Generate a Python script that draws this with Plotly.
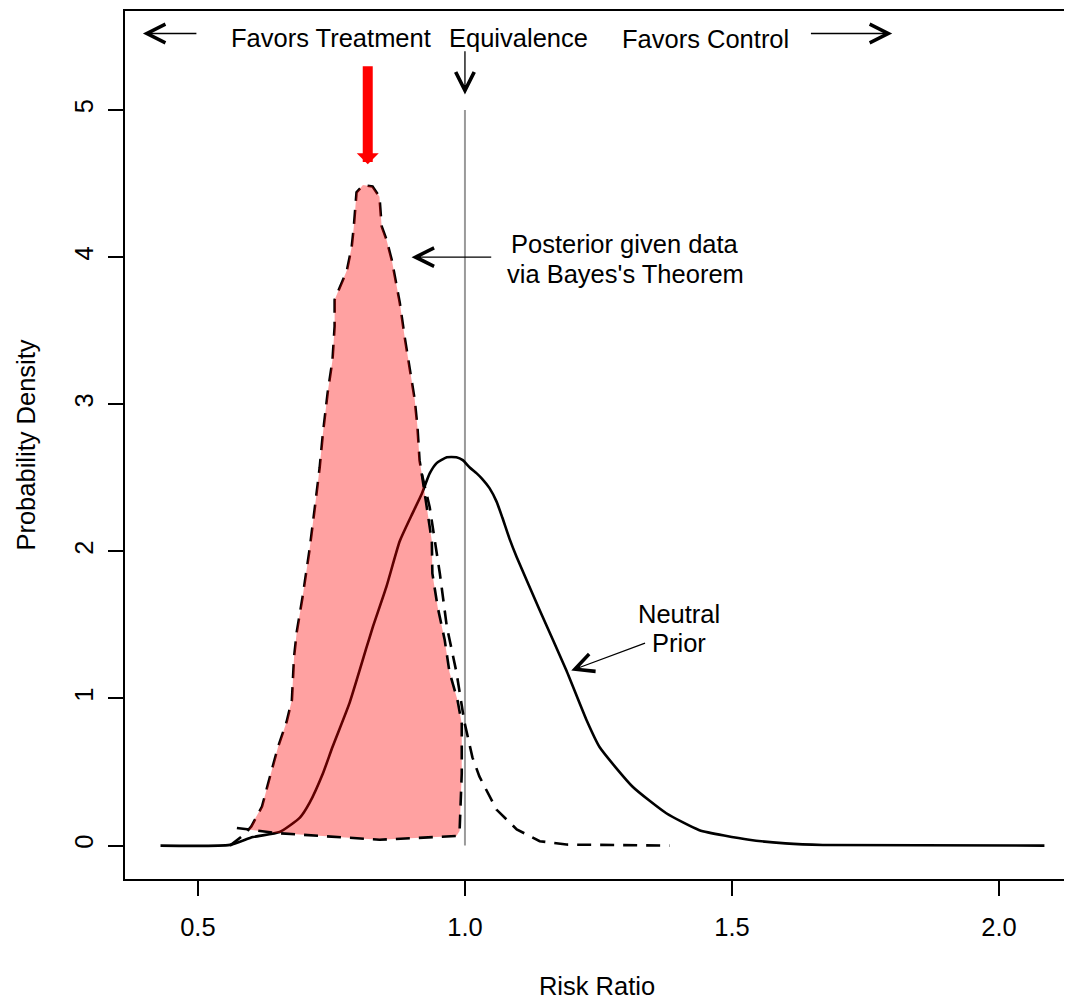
import plotly.graph_objects as go

# ---- data ----
prior_x = [0.43, 0.56, 0.603, 0.653, 0.691, 0.709, 0.734, 0.752, 0.784, 0.816, 0.827, 0.853,
           0.878, 0.902, 0.919, 0.934, 0.947, 0.966, 0.984, 0.996, 1.009, 1.022, 1.033, 1.046,
           1.059, 1.070, 1.083, 1.097, 1.140, 1.190, 1.228, 1.252, 1.314, 1.377, 1.439, 1.532,
           1.60, 1.67, 2.085]
prior_y = [0, 0.005, 0.058, 0.092, 0.19, 0.29, 0.49, 0.67, 0.97, 1.35, 1.48, 1.76,
           2.07, 2.26, 2.39, 2.53, 2.60, 2.64, 2.64, 2.62, 2.57, 2.53, 2.49, 2.43,
           2.34, 2.23, 2.09, 1.96, 1.60, 1.19, 0.85, 0.67, 0.40, 0.22, 0.105, 0.04,
           0.015, 0.004, 0]

post_x = [0.56, 0.585, 0.60, 0.620, 0.635, 0.650, 0.666, 0.676, 0.680, 0.685, 0.696, 0.709,
          0.719, 0.728, 0.734, 0.743, 0.752, 0.756, 0.756, 0.766, 0.779, 0.788, 0.792, 0.797,
          0.809, 0.827, 0.840, 0.844, 0.853, 0.863, 0.878, 0.887, 0.896, 0.906, 0.911, 0.915,
          0.919, 0.934, 0.953, 0.966, 0.984, 0.999, 1.014, 1.027, 1.059, 1.097, 1.140, 1.19,
          1.383]
post_y = [0, 0.07, 0.13, 0.265, 0.47, 0.67, 0.84, 0.99, 1.28, 1.45, 1.69, 2.01,
          2.30, 2.57, 2.80, 3.08, 3.30, 3.53, 3.71, 3.80, 3.91, 4.07, 4.21, 4.44,
          4.49, 4.48, 4.41, 4.21, 4.12, 3.98, 3.69, 3.46, 3.25, 3.03, 2.85, 2.62,
          2.53, 2.30, 1.85, 1.49, 1.18, 0.84, 0.60, 0.47, 0.245, 0.11, 0.03, 0.007,
          0]

# hand-drawn shaded region (posterior mass below RR = 1)
shade_x = [0.573, 0.597, 0.620, 0.635, 0.650, 0.666, 0.676, 0.680, 0.685, 0.696, 0.709, 0.719,
           0.728, 0.734, 0.743, 0.752, 0.756, 0.756, 0.766, 0.779, 0.788, 0.792, 0.797, 0.809,
           0.827, 0.840, 0.844, 0.853, 0.863, 0.878, 0.887, 0.896, 0.906, 0.911, 0.915, 0.919,
           0.928, 0.938, 0.939, 0.949, 0.962, 0.971, 0.986, 0.994, 0.994, 0.990, 0.984, 0.840,
           0.648, 0.573]
shade_y = [0.12, 0.12, 0.265, 0.47, 0.67, 0.84, 0.99, 1.28, 1.45, 1.69, 2.01, 2.30,
           2.57, 2.80, 3.08, 3.30, 3.53, 3.71, 3.80, 3.91, 4.07, 4.21, 4.44, 4.49,
           4.48, 4.41, 4.21, 4.12, 3.98, 3.69, 3.46, 3.25, 3.03, 2.85, 2.62, 2.53,
           2.30, 2.07, 1.85, 1.62, 1.40, 1.18, 0.99, 0.83, 0.49, 0.10, 0.065, 0.04,
           0.085, 0.12]
shade_edge_start = 35  # index where the shaded outline departs from the posterior curve

equiv_x = [1.0, 1.0]
equiv_y = [0, 5]

x_ticks = [0.5, 1.0, 1.5, 2.0]
x_tick_labels = ["0.5", "1.0", "1.5", "2.0"]
y_ticks = [0, 1, 2, 3, 4, 5]
y_tick_labels = ["0", "1", "2", "3", "4", "5"]

x_title = "Risk Ratio"
y_title = "Probability Density"

FONT = "Arial, 'Liberation Sans', sans-serif"
FS = 25.5
DASH = "14px,9px"

fig = go.Figure()

fig.add_trace(go.Scatter(x=equiv_x, y=equiv_y, mode="lines",
                         line=dict(color="#9a9a9a", width=2), hoverinfo="skip"))
fig.add_trace(go.Scatter(x=prior_x, y=prior_y, mode="lines",
                         line=dict(color="black", width=2.6, shape="spline", smoothing=0.5),
                         hoverinfo="skip"))
fig.add_trace(go.Scatter(x=post_x, y=post_y, mode="lines",
                         line=dict(color="black", width=2.6, dash=DASH), hoverinfo="skip"))
fig.add_trace(go.Scatter(x=shade_x, y=shade_y, mode="lines", fill="toself",
                         fillcolor="rgba(255,0,0,0.37)",
                         line=dict(color="rgba(0,0,0,0)", width=0), hoverinfo="skip"))
fig.add_trace(go.Scatter(x=shade_x[shade_edge_start:], y=shade_y[shade_edge_start:], mode="lines",
                         line=dict(color="black", width=2.6, dash=DASH), hoverinfo="skip"))

annotations = []

def label(text, x, y):
    annotations.append(dict(x=x, y=y, xref="x", yref="y", text=text, showarrow=False,
                            xanchor="center", yanchor="middle",
                            font=dict(family=FONT, size=FS, color="black")))

def arrow(tip, tail, color="black", width=1.3, head=5, size=2.8):
    annotations.append(dict(x=tip[0], y=tip[1], ax=tail[0], ay=tail[1],
                            xref="x", yref="y", axref="x", ayref="y", text="",
                            showarrow=True, arrowhead=head, arrowsize=size,
                            arrowwidth=width, arrowcolor=color, standoff=0, startstandoff=0))

label("Favors Treatment", 0.749, 5.487)
label("Equivalence", 1.100, 5.490)
label("Favors Control", 1.450, 5.485)
label("Posterior given data", 1.300, 4.087)
label("via Bayes's Theorem", 1.300, 3.884)
label("Neutral", 1.401, 1.571)
label("Prior", 1.401, 1.374)

arrow((0.397, 5.52), (0.500, 5.52))
arrow((1.800, 5.52), (1.645, 5.52))
arrow((1.000, 5.105), (1.000, 5.41))
arrow((0.900, 4.00), (1.052, 4.00))
arrow((1.199, 1.19), (1.340, 1.38))
arrow((0.818, 4.632), (0.818, 5.307), color="red", width=10, head=1, size=0.367)

# page body has an 8px margin: size and margins compensate so the plot box
# lands at x 125..1070, y 9..879 in the 1072x1000 window
fig.update_layout(
    width=1064, height=992,
    margin=dict(l=117, r=2, t=1, b=121),
    paper_bgcolor="white", plot_bgcolor="white",
    showlegend=False,
    font=dict(family=FONT, size=FS, color="black"),
    annotations=annotations,
)
fig.update_xaxes(range=[0.3635, 2.131], tickvals=x_ticks, ticktext=x_tick_labels,
                 showgrid=False, zeroline=False, showline=True, mirror=True,
                 linecolor="black", linewidth=2, ticks="outside", ticklen=15, tickwidth=1.5,
                 tickcolor="black", tickfont=dict(family=FONT, size=FS, color="black"),
                 ticklabelstandoff=9,
                 title=dict(text=x_title, font=dict(family=FONT, size=FS, color="black"),
                            standoff=39))
fig.update_yaxes(range=[-0.227, 5.673], tickvals=y_ticks, ticktext=y_tick_labels,
                 showgrid=False, zeroline=False, showline=True, mirror=True,
                 linecolor="black", linewidth=2, ticks="outside", ticklen=15, tickwidth=1.5,
                 tickcolor="black", tickangle=-90,
                 tickfont=dict(family=FONT, size=FS, color="black"),
                 ticklabelstandoff=5,
                 title=dict(text=y_title, font=dict(family=FONT, size=FS, color="black"),
                            standoff=27))

fig.write_html("out.html")
